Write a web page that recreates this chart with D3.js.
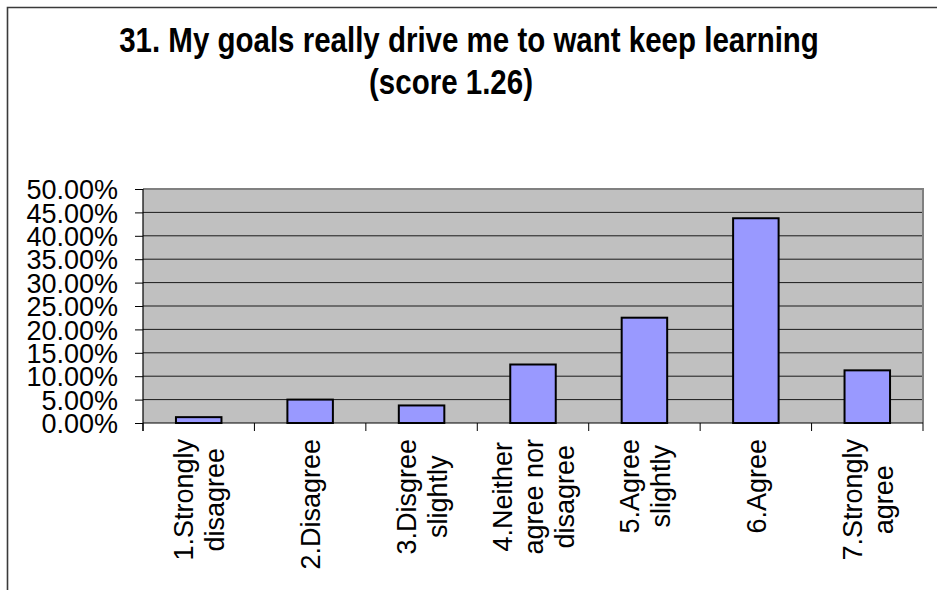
<!DOCTYPE html>
<html>
<head>
<meta charset="utf-8">
<script src="https://cdn.jsdelivr.net/npm/d3@7"></script>
<style>
  html, body { margin: 0; padding: 0; background: #fff; }
  svg { display: block; font-family: "Liberation Sans", Arial, sans-serif; }
</style>
</head>
<body>
<svg id="chart" width="937" height="590"></svg>
<script>
// Survey item 31: share of respondents for each answer (n = 80)
const categories = [
  ["1.Strongly", "disagree"],
  ["2.Disagree"],
  ["3.Disgree", "slightly"],
  ["4.Neither", "agree nor", "disagree"],
  ["5.Agree", "slightly"],
  ["6.Agree"],
  ["7.Strongly", "agree"]
];
const shares = [1.25, 5.00, 3.75, 12.50, 22.50, 43.75, 11.25];
const yTicks = [0, 5, 10, 15, 20, 25, 30, 35, 40, 45, 50];
const titleLines = ["31. My goals really drive me to want keep learning", "(score 1.26)"];

const svg = d3.select("#chart");
const plot = { left: 143, right: 923, top: 189, bottom: 423 };

// Outer frame (top and left edges)
svg.append("path")
  .attr("d", "M7.5,590 V7.5 H937")
  .attr("fill", "none").attr("stroke", "#3a3a3a").attr("stroke-width", 1.6);

// Title: two lines, slightly tall lettering
const titlePos = [{ x: 469, y: 52 }, { x: 451, y: 94 }];
svg.append("g").selectAll("text").data(titleLines).join("text")
  .attr("transform", (d, i) => `translate(${titlePos[i].x},${titlePos[i].y}) scale(1,1.18)`)
  .attr("text-anchor", "middle")
  .attr("font-weight", "bold").attr("font-size", 29.5)
  .text(d => d);

const keys = categories.map((c, i) => i);
const x = d3.scaleBand().domain(keys).range([plot.left, plot.right]).paddingInner(0).paddingOuter(0);
const y = d3.scaleLinear().domain([0, 50]).range([plot.bottom, plot.top]);

// Plot background
svg.append("rect")
  .attr("x", plot.left).attr("y", plot.top)
  .attr("width", plot.right - plot.left).attr("height", plot.bottom - plot.top)
  .attr("fill", "#c0c0c0");

// Horizontal gridlines
svg.append("g").selectAll("line").data(yTicks.filter(t => t > 0 && t < 50)).join("line")
  .attr("x1", plot.left).attr("x2", plot.right)
  .attr("y1", d => y(d)).attr("y2", d => y(d))
  .attr("stroke", "#1a1a1a").attr("stroke-width", 1);

// Plot border (top/right in gray)
svg.append("path")
  .attr("d", `M${plot.left},${plot.top} H${plot.right} V${plot.bottom}`)
  .attr("fill", "none").attr("stroke", "#808080").attr("stroke-width", 2);

// Bars
const barW = 45.5;
svg.append("g").selectAll("rect").data(shares).join("rect")
  .attr("x", (d, i) => x(i) + x.bandwidth() / 2 - barW / 2)
  .attr("y", d => y(d))
  .attr("width", barW)
  .attr("height", d => y(0) - y(d))
  .attr("fill", "#9999ff")
  .attr("stroke", "#000").attr("stroke-width", 2);

// Y axis
const yAxis = d3.axisLeft(y).tickValues(yTicks).tickSize(8).tickPadding(17)
  .tickFormat(d => d.toFixed(2) + "%");
const gy = svg.append("g").attr("transform", `translate(${plot.left},0)`).call(yAxis);
gy.select(".domain").attr("stroke", "#000").attr("stroke-width", 1.2)
  .attr("d", `M0,${plot.top}V${plot.bottom + 8}`);
gy.selectAll(".tick line").attr("stroke", "#000");
gy.selectAll(".tick text")
  .attr("font-family", "'Liberation Sans', Arial, sans-serif")
  .attr("font-size", 27).attr("fill", "#000").attr("dy", "0.36em");

// X axis: ticks at category boundaries
const bounds = keys.map(k => x(k)).concat([plot.right]);
svg.append("line")
  .attr("x1", plot.left).attr("x2", plot.right)
  .attr("y1", plot.bottom).attr("y2", plot.bottom)
  .attr("stroke", "#000").attr("stroke-width", 1.2);
svg.append("g").selectAll("line").data(bounds).join("line")
  .attr("x1", d => d).attr("x2", d => d)
  .attr("y1", plot.bottom).attr("y2", plot.bottom + 8)
  .attr("stroke", "#000").attr("stroke-width", 1);

// Rotated, centered multi-line category labels
const lineH = 31;
const labelTop = 439;
const lg = svg.append("g").attr("font-size", 27).attr("fill", "#000");
categories.forEach((lines, i) => {
  const g = lg.append("g");
  const t = g.append("text").attr("text-anchor", "middle");
  lines.forEach((ln, j) => {
    t.append("tspan")
      .attr("x", 0)
      .attr("y", (j - (lines.length - 1) / 2) * lineH)
      .attr("dy", "0.36em")
      .text(ln);
  });
  const maxLen = d3.max(t.selectAll("tspan").nodes(), n => n.getComputedTextLength());
  g.attr("transform", `translate(${x(i) + x.bandwidth() / 2},${labelTop + maxLen / 2}) rotate(-90)`);
});
</script>
</body>
</html>
